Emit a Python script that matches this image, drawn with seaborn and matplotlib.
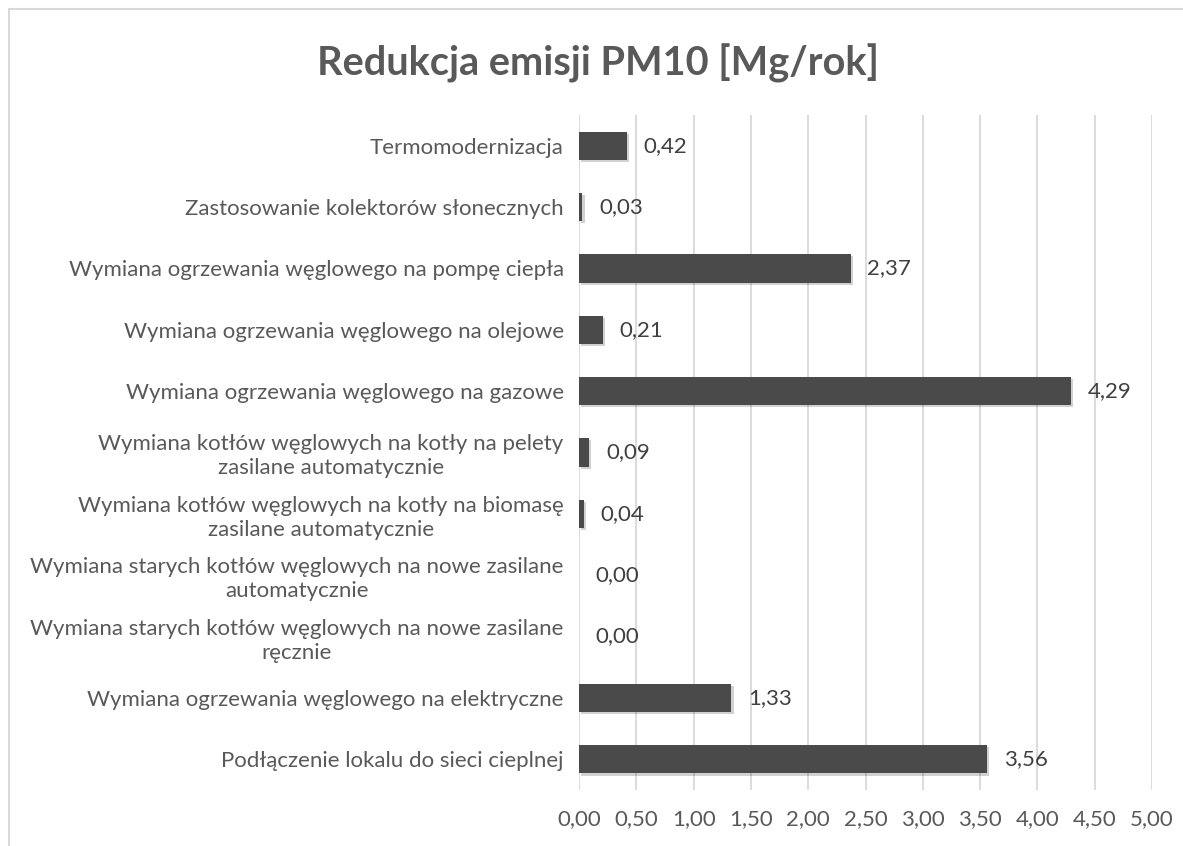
import matplotlib
matplotlib.use("Agg")
import matplotlib.pyplot as plt
import matplotlib.patheffects as pe
from matplotlib.patches import Rectangle
import pandas as pd
import seaborn as sns

# data (top to bottom as shown in the chart)
categories = [
    "Termomodernizacja",
    "Zastosowanie kolektorów słonecznych",
    "Wymiana ogrzewania węglowego na pompę ciepła",
    "Wymiana ogrzewania węglowego na olejowe",
    "Wymiana ogrzewania węglowego na gazowe",
    "Wymiana kotłów węglowych na kotły na pelety\nzasilane automatycznie",
    "Wymiana kotłów węglowych na kotły na biomasę\nzasilane automatycznie",
    "Wymiana starych kotłów węglowych na nowe zasilane\nautomatycznie",
    "Wymiana starych kotłów węglowych na nowe zasilane\nręcznie",
    "Wymiana ogrzewania węglowego na elektryczne",
    "Podłączenie lokalu do sieci cieplnej",
]
values = [0.42, 0.03, 2.37, 0.21, 4.29, 0.09, 0.04, 0.00, 0.00, 1.33, 3.56]
x_ticks = [0.0, 0.5, 1.0, 1.5, 2.0, 2.5, 3.0, 3.5, 4.0, 4.5, 5.0]
title = "Redukcja emisji PM10 [Mg/rok]"

df = pd.DataFrame({"kategoria": categories, "wartosc": values})

sns.set_theme(style="white")
plt.rcParams["font.family"] = ["Lato", "DejaVu Sans"]

text_color = "#595959"
bar_color = "#4a4a4a"
grid_color = "#d9d9d9"

fig = plt.figure(figsize=(11.83, 8.46), dpi=100)
ax = fig.add_axes([579 / 1183, 1 - 790 / 846, (1152 - 579) / 1183, (790 - 115) / 846])

sns.barplot(data=df, x="wartosc", y="kategoria", orient="h", color=bar_color,
            width=0.46, saturation=1, linewidth=0, ax=ax)

for p in ax.patches:
    p.set_path_effects([pe.SimplePatchShadow(offset=(1.5, -1.5), shadow_rgbFace="#000000", alpha=0.18),
                        pe.Normal()])

ax.set_xlim(0, 5)
ax.set_xticks(x_ticks)
ax.set_xticklabels([f"{t:.2f}".replace(".", ",") for t in x_ticks])
ax.xaxis.grid(True, color=grid_color, linewidth=1.3)
ax.set_axisbelow(True)
for s in ax.spines.values():
    s.set_visible(False)
ax.set_xlabel("")
ax.set_ylabel("")
ax.tick_params(axis="x", colors=text_color, labelsize=16, length=0, pad=14)
ax.tick_params(axis="y", colors=text_color, labelsize=16, length=0, pad=11)
for lbl in ax.get_yticklabels():
    lbl.set_multialignment("center")
    lbl.set_linespacing(1.25)

for i, v in enumerate(values):
    ax.annotate(f"{v:.2f}".replace(".", ","), xy=(v, i), xytext=(12, 0),
                textcoords="offset points", va="center", ha="left",
                fontsize=16, color="#404040")

fig.text(598 / 1183, 1 - 63 / 846, title, ha="center", va="center",
         fontsize=28.6, fontweight="bold", color=text_color)

# chart area border (left and top edges visible)
fig.patches.append(Rectangle((8.5 / 1183, -0.1), 1.2, 1 - 9.5 / 846 + 0.1,
                             transform=fig.transFigure, fill=False,
                             edgecolor="#d9d9d9", linewidth=1.5))

fig.savefig("out.png", dpi=100, facecolor="white")
